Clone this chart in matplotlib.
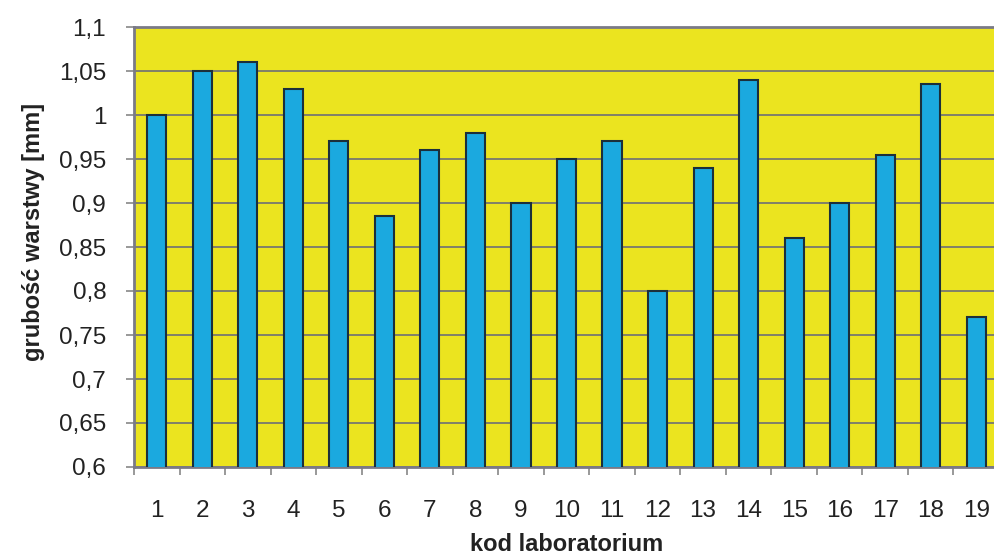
import matplotlib.pyplot as plt
import numpy as np
from matplotlib.ticker import FixedLocator, FuncFormatter

# grubość warstwy reported by each laboratory
labs = [str(i) for i in range(1, 20)]
thickness = [1.00, 1.05, 1.06, 1.03, 0.97, 0.885, 0.96, 0.98, 0.90, 0.95,
             0.97, 0.80, 0.94, 1.04, 0.86, 0.90, 0.955, 1.035, 0.77]

plt.rcParams['font.family'] = ['Liberation Sans', 'DejaVu Sans']

fig = plt.figure(figsize=(9.94, 5.59), dpi=100)
# axes run slightly past the right border of the figure
ax = fig.add_axes([134 / 994, 92 / 559, 865 / 994, 440 / 559])

ax.set_facecolor('#ebe41f')
x = np.arange(len(labs))
ax.bar(x, thickness, width=0.42, bottom=0, color='#1ba9df',
       edgecolor='#1b2f3b', linewidth=1.5, zorder=3)

ax.set_xlim(-0.5, len(labs) - 0.5)
ax.set_ylim(0.6, 1.1)
yticks = np.round(np.arange(0.6, 1.1001, 0.05), 2)
ax.set_yticks(yticks)
ax.yaxis.set_major_formatter(FuncFormatter(
    lambda v, p: ('%g' % round(v, 2)).replace('.', ',')))
ax.yaxis.grid(True, color='#80806a', linewidth=1.4, zorder=1)
ax.set_axisbelow(True)

ax.set_xticks(x)
ax.set_xticklabels(labs)
ax.xaxis.set_minor_locator(FixedLocator(np.arange(-0.5, len(labs), 1.0)))
ax.tick_params(axis='x', which='major', length=0, pad=24, labelsize=17.5,
               colors='#222222')
ax.tick_params(axis='x', which='minor', length=6, width=1.2, color='#888888',
               direction='out')
ax.tick_params(axis='y', length=6, width=1.2, color='#888888', pad=14,
               labelsize=17.5, labelcolor='#222222')

for side in ['top', 'left', 'bottom']:
    ax.spines[side].set_color('#7a7a86')
    ax.spines[side].set_linewidth(2)
ax.spines['right'].set_visible(False)

ax.set_xlabel('kod laboratorium', fontsize=17, fontweight='bold',
              color='#222222')
ax.set_ylabel('grubość warstwy [mm]', fontsize=17, fontweight='bold',
              color='#222222')
ax.xaxis.set_label_coords(0.5, -0.15)
ax.yaxis.set_label_coords(-0.103, 0.534)

fig.savefig('out.png', dpi=100)
